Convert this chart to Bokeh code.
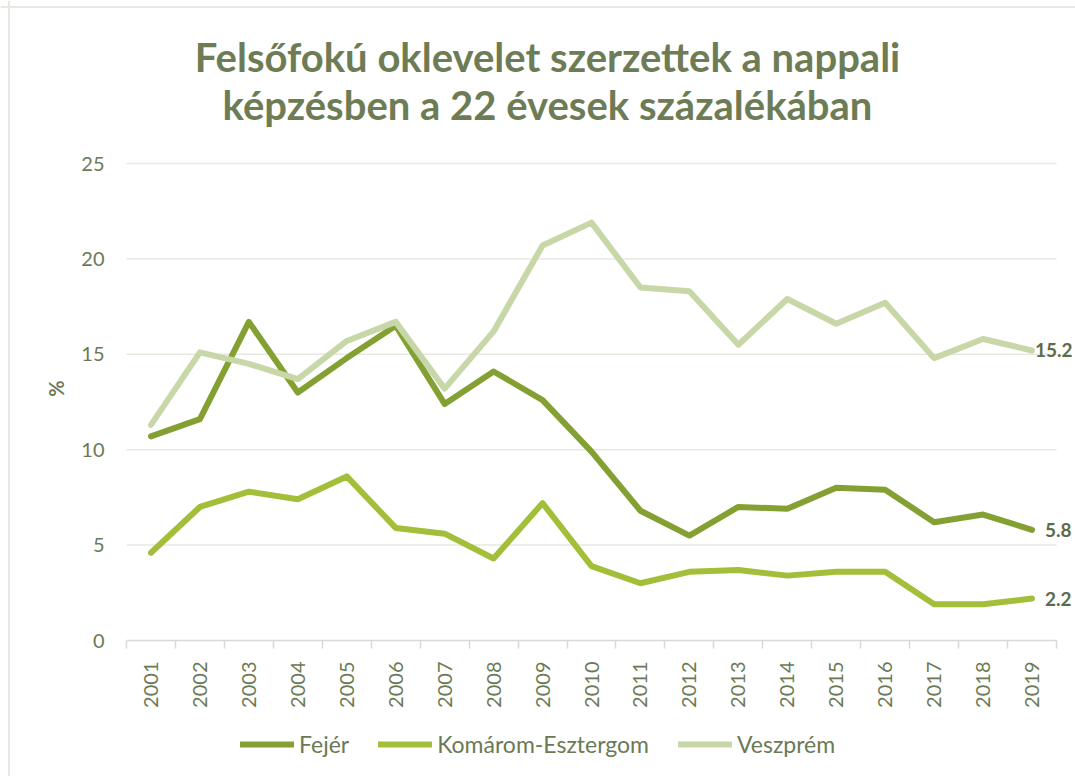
from bokeh.plotting import figure
from bokeh.models import (ColumnDataSource, Range1d, FixedTicker, Label, Legend, LegendItem, Span)
from bokeh.core.properties import value
from bokeh.embed import file_html
from bokeh.resources import INLINE

years = list(range(2001, 2020))
fejer = [10.7, 11.6, 16.7, 13.0, 14.8, 16.5, 12.4, 14.1, 12.6, 9.9,
         6.8, 5.5, 7.0, 6.9, 8.0, 7.9, 6.2, 6.6, 5.8]
komarom = [4.6, 7.0, 7.8, 7.4, 8.6, 5.9, 5.6, 4.3, 7.2, 3.9,
           3.0, 3.6, 3.7, 3.4, 3.6, 3.6, 1.9, 1.9, 2.2]
veszprem = [11.3, 15.1, 14.5, 13.7, 15.7, 16.7, 13.2, 16.2, 20.7, 21.9,
            18.5, 18.3, 15.5, 17.9, 16.6, 17.7, 14.8, 15.8, 15.2]
series_names = ["Fejér", "Komárom-Esztergom", "Veszprém"]
y_ticks = [0, 5, 10, 15, 20, 25]
title_lines = ["Felsőfokú oklevelet szerzettek a nappali",
               "képzésben a 22 évesek százalékában"]

colors = ["#85A032", "#A3BF3A", "#C8D7A8"]
txt = "#6B7A55"
FONT = "Lato"

# layout (canvas pixels): plotting area inside the canvas
W, H = 1075, 776
left, right, top, bottom = 126, 1056, 163, 640   # plot area edges in canvas px
x0, x1 = years[0] - 0.5, years[-1] + 0.5
y0, y1 = y_ticks[0], y_ticks[-1]
sx = (right - left) / (x1 - x0)
sy = (bottom - top) / (y1 - y0)
xr = Range1d(x0 - left / sx, x1 + (W - right) / sx)
yr = Range1d(y0 - (H - bottom) / sy, y1 + top / sy)

def px_x(cx):
    return x0 + (cx - left) / sx

def px_y(cy):
    return y1 + (top - cy) / sy

p = figure(width=W, height=H, output_backend="svg", toolbar_location=None,
           x_range=xr, y_range=yr, min_border=0)
p.outline_line_color = None
p.background_fill_color = "white"
p.border_fill_color = "white"

# chart area border (top and left visible)
p.add_layout(Span(location=px_x(8.5), dimension="height", line_color="#E8E8E0", line_width=2))
p.add_layout(Span(location=px_y(6.5), dimension="width", line_color="#E8E8E0", line_width=2))

# grid (horizontal lines across the plot area only)
p.xgrid.grid_line_color = None
p.ygrid.grid_line_color = None
gl = y_ticks[1:]
p.segment(x0=[x0] * len(gl), x1=[x1] * len(gl), y0=gl, y1=gl,
          line_color="#E8E8E0", line_width=1.5)

# y axis
p.yaxis.fixed_location = x0
p.yaxis.ticker = FixedTicker(ticks=y_ticks)
p.yaxis.axis_line_color = None
p.yaxis.major_tick_line_color = None
p.yaxis.major_tick_out = 0
p.yaxis.major_tick_in = 0
p.yaxis.minor_tick_line_color = None
p.yaxis.major_label_text_font = FONT
p.yaxis.major_label_text_font_size = "20px"
p.yaxis.major_label_text_color = txt
p.yaxis.major_label_standoff = 22
p.yaxis.axis_label = "%"
p.yaxis.axis_label_text_font = FONT
p.yaxis.axis_label_text_font_style = "bold"
p.yaxis.axis_label_text_font_size = "20px"
p.yaxis.axis_label_text_color = txt
p.yaxis.axis_label_standoff = 10

# x axis
boundaries = [y - 0.5 for y in years] + [years[-1] + 0.5]
p.xaxis.fixed_location = y0
p.xaxis.bounds = (x0, x1)
p.xaxis.ticker = FixedTicker(ticks=years, minor_ticks=boundaries)
p.xaxis.axis_line_color = "#D9D9D9"
p.xaxis.axis_line_width = 1.5
p.xaxis.major_tick_line_color = None
p.xaxis.minor_tick_line_color = "#D9D9D9"
p.xaxis.minor_tick_line_width = 1.5
p.xaxis.minor_tick_in = 0
p.xaxis.minor_tick_out = 8
p.xaxis.major_tick_out = 0
p.xaxis.major_tick_in = 0
p.xaxis.major_label_orientation = 1.5707963
p.xaxis.major_label_text_font = FONT
p.xaxis.major_label_text_font_size = "20px"
p.xaxis.major_label_text_color = txt
p.xaxis.major_label_standoff = 13

renderers = []
for name, vals, col in zip(series_names, [fejer, komarom, veszprem], colors):
    src = ColumnDataSource(dict(x=years, y=vals))
    r = p.line("x", "y", source=src, line_color=col, line_width=6,
               line_cap="round", line_join="round")
    renderers.append(r)

# end labels
last_vals = [fejer[-1], komarom[-1], veszprem[-1]]
x_offsets = [13, 13, 3]
end_src = ColumnDataSource(dict(x=[years[-1]] * 3, y=last_vals,
                                t=[f"{v:.1f}" for v in last_vals], xo=x_offsets))
p.text("x", "y", text="t", source=end_src, x_offset="xo",
       text_font=value(FONT), text_font_style="bold", text_font_size="19px",
       text_color="#5E6B4A", text_baseline="middle", text_align="left")

# title
for i, line in enumerate(title_lines):
    p.add_layout(Label(x=px_x(547), y=px_y(56 + 48 * i), text=line, text_align="center",
                       text_baseline="middle", text_font=FONT,
                       text_font_style="bold", text_font_size="40px",
                       text_color="#6D7C55"))

legend = Legend(items=[LegendItem(label=n, renderers=[r]) for n, r in zip(series_names, renderers)],
                orientation="horizontal", location=(240, H - 758),
                glyph_width=54, glyph_height=20, label_standoff=5, spacing=29,
                label_text_font=FONT, label_text_font_size="23px",
                label_text_color=txt, border_line_color=None,
                background_fill_alpha=0, padding=4)
p.add_layout(legend, "center")

open("out.html", "w").write(file_html(p, INLINE))
